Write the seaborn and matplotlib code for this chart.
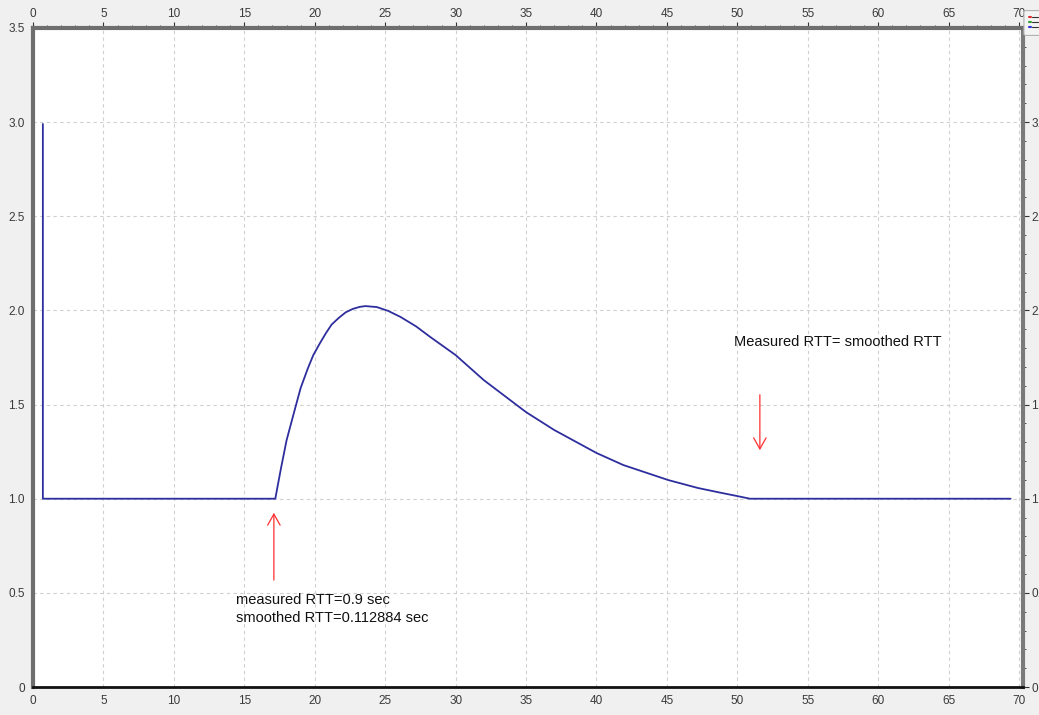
import matplotlib
matplotlib.use("Agg")
import matplotlib.pyplot as plt
import seaborn as sns
import pandas as pd
import numpy as np
from matplotlib.ticker import MultipleLocator
from matplotlib.patches import FancyBboxPatch
from matplotlib.lines import Line2D

sns.set_style("white")
plt.rcParams['font.family'] = ['Liberation Sans', 'DejaVu Sans']

# Data
time_s = [0.7, 0.7, 17.2, 17.6, 18.0, 18.5, 19.0, 19.5, 19.9, 20.4, 20.8, 21.2, 21.7, 22.2,
          22.7, 23.2, 23.6, 24.4, 25.2, 26.1, 27.2, 28.2, 30.0, 32.0, 35.0, 37.0, 40.0,
          41.9, 45.1, 47.2, 48.8, 50.0, 50.9, 69.4]
rto_val = [2.99, 1.0, 1.0, 1.16, 1.31, 1.45, 1.588, 1.69, 1.763, 1.83, 1.88, 1.925, 1.96, 1.99,
           2.008, 2.019, 2.023, 2.018, 1.998, 1.965, 1.915, 1.859, 1.763, 1.630, 1.460, 1.365,
           1.243, 1.179, 1.099, 1.057, 1.032, 1.014, 1.0, 1.0]

note1 = "measured RTT=0.9 sec\nsmoothed RTT=0.112884 sec"
note2 = "Measured RTT= smoothed RTT"

df = pd.DataFrame({"t": time_s, "v": rto_val})

fig = plt.figure(figsize=(10.39, 7.15), dpi=100, facecolor="#f0f0f0")
ax = fig.add_axes([33/1039, 1-687/715, (1023-33)/1039, (687-28)/715])
ax.set_facecolor("white")

sns.lineplot(data=df, x="t", y="v", sort=False, estimator=None, ax=ax,
             color="#2e2e9e", linewidth=1.3)

ax.set_xlim(0, 70.28)
ax.set_ylim(0, 3.5)
ax.set_xlabel("")
ax.set_ylabel("")

ax.xaxis.set_major_locator(MultipleLocator(5))
ax.xaxis.set_minor_locator(MultipleLocator(1))
ax.yaxis.set_minor_locator(MultipleLocator(0.1))
ax.set_xticks(np.arange(0, 71, 5))
ax.set_xticklabels([f"{int(v)}" for v in np.arange(0, 71, 5)])
ax.set_yticks(np.arange(0, 3.51, 0.5))
ax.set_yticklabels(["0"] + [f"{v:.1f}" for v in np.arange(0.5, 3.51, 0.5)])

ax.tick_params(axis="both", which="both", direction="out", top=True, right=True,
               labeltop=True, labelright=True, labelsize=8.5, colors="#333333",
               labelcolor="#3a3a3a")
ax.tick_params(which="major", length=4, width=0.8)
ax.tick_params(which="minor", length=2, width=0.6)
ax.tick_params(axis="x", pad=2)
ax.tick_params(axis="y", pad=2)

ax.grid(True, which="major", linestyle=(0, (3, 3)), color="#cfcfcf", linewidth=0.8)
ax.set_axisbelow(True)

for side, lw, col in [("left", 3, "#6e6e6e"), ("top", 3, "#6e6e6e"),
                      ("right", 3, "#7a7a7a"), ("bottom", 2, "#111111")]:
    ax.spines[side].set_visible(True)
    ax.spines[side].set_linewidth(lw)
    ax.spines[side].set_color(col)

# Annotations
ax.annotate("", xy=(17.1, 0.94), xytext=(17.1, 0.553),
            arrowprops=dict(arrowstyle="->,head_length=0.8,head_width=0.45",
                            color="#ff3030", lw=0.9))
ax.text(14.4, 0.50, note1, ha="left", va="top", fontsize=10.5,
        color="#111111", linespacing=1.35)

ax.annotate("", xy=(51.6, 1.243), xytext=(51.6, 1.567),
            arrowprops=dict(arrowstyle="->,head_length=0.8,head_width=0.45",
                            color="#ff3030", lw=0.9))
ax.text(49.77, 1.832, note2, ha="left", va="center", fontsize=10.5,
        color="#111111")

# small legend toggle icon at top-right corner
icon = FancyBboxPatch((1026/1039, 1-34/715), 14/1039, 22/715,
                      boxstyle="round,pad=0.002", transform=fig.transFigure,
                      facecolor="#f4f4f4", edgecolor="#b0b0b0", lw=0.8)
fig.add_artist(icon)
for i, c in enumerate(["#e03030", "#30a030", "#3030e0"]):
    yy = 1 - (17 + i * 5) / 715
    fig.add_artist(Line2D([1029/1039, 1030.5/1039], [yy, yy], color=c, lw=1.5,
                          transform=fig.transFigure))
    fig.add_artist(Line2D([1032/1039, 1038/1039], [yy, yy], color="#333333", lw=0.8,
                          transform=fig.transFigure))

fig.savefig("out.png", dpi=100, facecolor=fig.get_facecolor())
